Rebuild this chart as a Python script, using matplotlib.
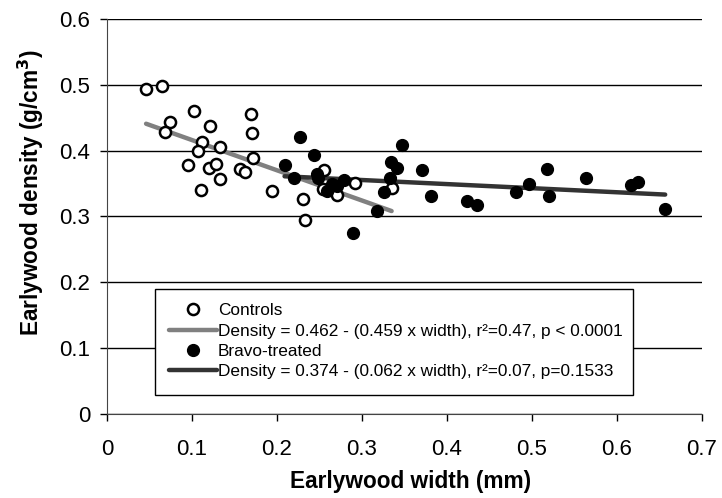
import numpy as np
import matplotlib.pyplot as plt
from matplotlib.patches import Rectangle

plt.rcParams['font.family'] = ['Liberation Sans', 'DejaVu Sans']

# Controls (open circles)
ctrl_width = [0.046, 0.065, 0.074, 0.068, 0.102, 0.121, 0.112, 0.107, 0.133,
              0.095, 0.120, 0.128, 0.133, 0.111, 0.169, 0.171, 0.172, 0.156,
              0.162, 0.194, 0.231, 0.233, 0.256, 0.254, 0.271, 0.292, 0.335]
ctrl_density = [0.494, 0.498, 0.444, 0.428, 0.460, 0.438, 0.413, 0.400, 0.406,
                0.378, 0.373, 0.380, 0.357, 0.340, 0.456, 0.427, 0.389, 0.372,
                0.368, 0.339, 0.326, 0.294, 0.370, 0.341, 0.333, 0.351, 0.343]

# Bravo-treated (filled circles)
bravo_width = [0.227, 0.244, 0.209, 0.220, 0.247, 0.248, 0.265, 0.271, 0.279,
               0.259, 0.347, 0.334, 0.341, 0.333, 0.326, 0.318, 0.290, 0.371,
               0.381, 0.424, 0.435, 0.481, 0.497, 0.518, 0.520, 0.564, 0.617,
               0.625, 0.657]
bravo_density = [0.420, 0.393, 0.378, 0.358, 0.365, 0.359, 0.349, 0.346, 0.355,
                 0.338, 0.409, 0.382, 0.374, 0.358, 0.337, 0.309, 0.275, 0.370,
                 0.331, 0.324, 0.317, 0.337, 0.349, 0.372, 0.331, 0.358, 0.348,
                 0.352, 0.311]

# regression coefficients from the legend
ctrl_fit = (0.462, 0.459)
bravo_fit = (0.374, 0.062)

ctrl_label = 'Density = 0.462 - (0.459 x width), r²=0.47, p < 0.0001'
bravo_label = 'Density = 0.374 - (0.062 x width), r²=0.07, p=0.1533'

fig = plt.figure(figsize=(7.22, 4.98), dpi=100)
ax = fig.add_axes([0.1482, 0.1687, 0.8237, 0.7932])

xc = np.array([min(ctrl_width), max(ctrl_width)])
xb = np.array([min(bravo_width), max(bravo_width)])

ax.plot(ctrl_width, ctrl_density, 'o', ms=8, mfc='white', mec='black',
        mew=1.8, ls='none', label='Controls', zorder=3)
ax.plot(xc, ctrl_fit[0] - ctrl_fit[1] * xc, color='#808080', lw=3.2,
        solid_capstyle='round', label=ctrl_label, zorder=2)
ax.plot(bravo_width, bravo_density, 'o', ms=8.5, mfc='black', mec='black',
        ls='none', label='Bravo-treated', zorder=3)
ax.plot(xb, bravo_fit[0] - bravo_fit[1] * xb, color='#333333', lw=3.2,
        solid_capstyle='round', label=bravo_label, zorder=2)

ax.set_xlim(0, 0.7)
ax.set_ylim(0, 0.6)
ax.set_xticks(np.arange(0, 0.71, 0.1))
ax.set_yticks(np.arange(0, 0.61, 0.1))
ax.set_xticklabels(['0', '0.1', '0.2', '0.3', '0.4', '0.5', '0.6', '0.7'])
ax.set_yticklabels(['0', '0.1', '0.2', '0.3', '0.4', '0.5', '0.6'])
ax.tick_params(axis='x', labelsize=16, direction='out', length=5, width=1, pad=13)
ax.tick_params(axis='y', labelsize=16, direction='out', length=5, width=1, pad=7)

ax.yaxis.grid(True, color='black', lw=1)
ax.set_axisbelow(True)
for s in ['top', 'right']:
    ax.spines[s].set_visible(False)
ax.spines['left'].set_color('#444444')
ax.spines['bottom'].set_color('#444444')

ax.set_xlabel('Earlywood width (mm)', fontsize=16.3, fontweight='bold')
ax.set_ylabel('Earlywood density (g/cm$^\\mathbf{3}$)', fontsize=16.3,
              fontweight='bold')
ax.xaxis.set_label_coords(0.511, -0.142)
ax.yaxis.set_label_coords(-0.103, 0.56)

# legend frame drawn separately so the padding can match the original
ax.add_patch(Rectangle((0.0807, 0.048), 0.8038, 0.2685, transform=ax.transAxes,
                       facecolor='white', edgecolor='black', lw=1, zorder=4))
leg = ax.legend(loc='center left', bbox_to_anchor=(0.1043, 0.184),
                borderaxespad=0, borderpad=0, fontsize=12.4, frameon=False,
                handlelength=2.8, labelspacing=0.3, handletextpad=0.05)
leg.set_zorder(5)

fig.savefig('out.png', dpi=100)
